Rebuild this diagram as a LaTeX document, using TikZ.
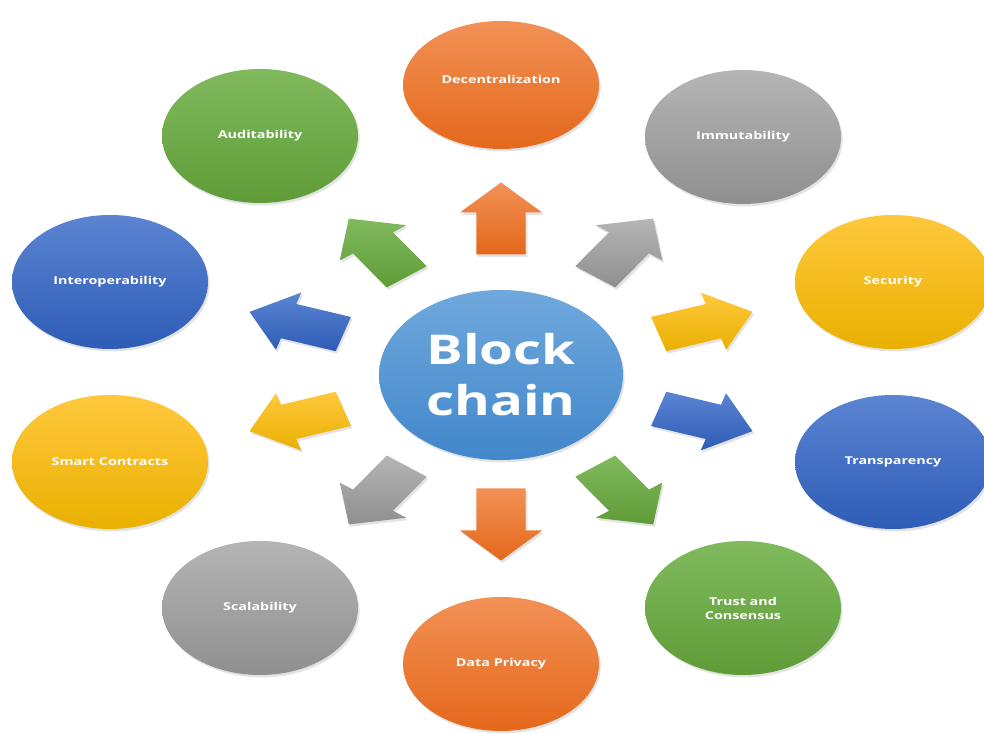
\documentclass[tikz,border=0pt]{standalone}
\usepackage{fontspec}
\usetikzlibrary{shapes.geometric,shadows}
\newfontfamily\lblfont{Open Sans}[FakeStretch=1.33]

% Office-style palette: light top / dark bottom of each gradient
\definecolor{orT}{HTML}{F29156}
\definecolor{orB}{HTML}{E4681B}
\definecolor{gyT}{HTML}{B5B5B5}
\definecolor{gyB}{HTML}{8F8F8F}
\definecolor{gdT}{HTML}{FFC83D}
\definecolor{gdB}{HTML}{E9B000}
\definecolor{blT}{HTML}{5B84D2}
\definecolor{blB}{HTML}{2E5CB6}
\definecolor{gnT}{HTML}{80BA5E}
\definecolor{gnB}{HTML}{5F9C37}
\definecolor{hubT}{HTML}{70A8DD}
\definecolor{hubB}{HTML}{4187CB}

\tikzset{
  softshadow/.style={drop shadow={shadow xshift=0.8pt, shadow yshift=-1.2pt, opacity=0.22}},
  bubble/.style={ellipse, minimum width=98pt, minimum height=67pt, inner sep=0pt,
    text=white, align=center, softshadow,
    font=\lblfont\bfseries\fontsize{5.4}{7}\selectfont},
  hub/.style={ellipse, minimum width=122pt, minimum height=85pt, inner sep=0pt,
    text=white, align=center, softshadow, top color=hubT, bottom color=hubB,
    font=\lblfont\bfseries\fontsize{20.5}{25.5}\selectfont},
  fillor/.style={top color=orT, bottom color=orB},
  fillgy/.style={top color=gyT, bottom color=gyB},
  fillgd/.style={top color=gdT, bottom color=gdB},
  fillbl/.style={top color=blT, bottom color=blB},
  fillgn/.style={top color=gnT, bottom color=gnB},
  blockarrow/.style={softshadow}
}

\begin{document}
\begin{tikzpicture}[x=0.5pt, y=0.5pt]
  \clip (0,0) rectangle (984,733);
  \fill[white] (0,0) rectangle (984,733);

  % central hub
  \node[hub] (hub) at (501,358) {Block\\chain};

  % surrounding properties
  \node[bubble, fillor, minimum height=64pt] (dec) at (501,648) {Decentralization\\[-1.5pt]};
  \node[bubble, fillgy] (imm) at (743,596) {Immutability};
  \node[bubble, fillgd] (sec) at (893,451) {Security};
  \node[bubble, fillbl] (tra) at (893,271) {Transparency};
  \node[bubble, fillgn] (tru) at (743,125) {Trust and\\Consensus};
  \node[bubble, fillor] (dat) at (501,69)  {Data Privacy};
  \node[bubble, fillgy] (sca) at (260,125) {Scalability};
  \node[bubble, fillgd] (sma) at (110,271) {Smart Contracts};
  \node[bubble, fillbl] (int) at (110,451) {Interoperability};
  \node[bubble, fillgn] (aud) at (260,597) {Auditability};

  % radial block arrows, laid out on a circle that is stretched horizontally;
  % \d pushes the near-horizontal ones slightly further out
  \begin{scope}[shift={(501,361.5)}, xscale=1.37]
    \foreach \ang/\ct/\cb/\d in {90/orT/orB/0, 54/gyT/gyB/0, 18/gdT/gdB/4, -18/blT/blB/4,
        -54/gnT/gnB/0, -90/orT/orB/0, -126/gyT/gyB/0, -162/gdT/gdB/4, 162/blT/blB/4, 126/gnT/gnB/0}{
      \path[blockarrow, top color=\ct, bottom color=\cb, rotate=\ang]
        (117+\d,-18) -- (159+\d,-18) -- (159+\d,-30) -- (189+\d,0) -- (159+\d,30)
        -- (159+\d,18) -- (117+\d,18) -- cycle;
    }
  \end{scope}
\end{tikzpicture}
\end{document}
